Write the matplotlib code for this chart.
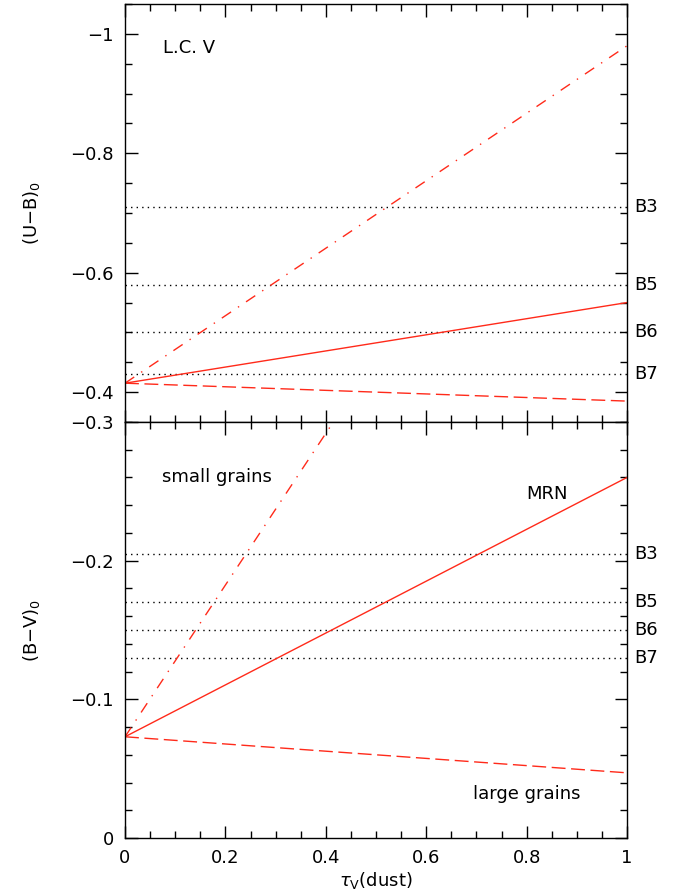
import matplotlib
matplotlib.use("Agg")
import matplotlib.pyplot as plt
from matplotlib.ticker import MultipleLocator, FuncFormatter

plt.rcParams['font.family'] = ['DejaVu Sans']
plt.rcParams['mathtext.fontset'] = 'dejavusans'

# ---- data ----
tau = [0.0, 1.0]
# top panel (U-B)0
ub_mrn = [-0.415, -0.55]
ub_small = [-0.415, -0.98]
ub_large = [-0.415, -0.385]
ub_types = ['B3', 'B5', 'B6', 'B7']
ub_type_vals = [-0.71, -0.58, -0.50, -0.43]
# bottom panel (B-V)0
bv_mrn = [-0.073, -0.26]
bv_small = [-0.073, -0.62]
bv_large = [-0.073, -0.047]
bv_types = ['B3', 'B5', 'B6', 'B7']
bv_type_vals = [-0.205, -0.170, -0.150, -0.130]

RED = '#ff2a1a'
W, H = 687, 894
fig = plt.figure(figsize=(W / 100, H / 100), dpi=100)
L = 125 / W
Wd = (627 - 125) / W
ax1 = fig.add_axes([L, 1 - 422 / H, Wd, (422 - 4) / H])
ax2 = fig.add_axes([L, 1 - 838 / H, Wd, (838 - 422) / H])


def fmt(v, pos):
    s = '%g' % round(v, 6)
    return s.replace('-', '\u2212')


FS = 13
for ax in (ax1, ax2):
    ax.set_xlim(0, 1)
    ax.xaxis.set_major_locator(MultipleLocator(0.2))
    ax.xaxis.set_minor_locator(MultipleLocator(0.05))
    ax.tick_params(which='both', direction='in', top=True, right=True,
                   labelsize=FS, colors='black', width=1.0, pad=8)
    ax.tick_params(which='major', length=9)
    ax.tick_params(which='minor', length=5)
    ax.xaxis.set_major_formatter(FuncFormatter(fmt))
    ax.yaxis.set_major_formatter(FuncFormatter(fmt))
    for sp in ax.spines.values():
        sp.set_linewidth(1.0)

# top panel
ax1.set_ylim(-0.35, -1.05)
ax1.yaxis.set_major_locator(MultipleLocator(0.2))
ax1.yaxis.set_minor_locator(MultipleLocator(0.05))
ax1.tick_params(labelbottom=False)
for name, v in zip(ub_types, ub_type_vals):
    ax1.plot(tau, [v, v], color='black', lw=1.0, ls=(0, (1, 3)))
    ax1.text(1.015, v, name, transform=ax1.get_yaxis_transform(),
             va='center', ha='left', fontsize=FS)
ax1.plot(tau, ub_mrn, color=RED, lw=1.0, ls='-')
ax1.plot(tau, ub_small, color=RED, lw=1.0, ls=(0, (8, 6, 1, 6)))
ax1.plot(tau, ub_large, color=RED, lw=1.0, ls=(0, (10, 4)))
ax1.text(0.076, -0.977, 'L.C. V', fontsize=FS, ha='left', va='center')
ax1.set_ylabel(r'(U$-$B)$_0$', fontsize=FS)
ax1.yaxis.set_label_coords(-0.165, 0.5)

# bottom panel
ax2.set_ylim(0, -0.3)
ax2.yaxis.set_major_locator(MultipleLocator(0.1))
ax2.yaxis.set_minor_locator(MultipleLocator(0.02))
for name, v in zip(bv_types, bv_type_vals):
    ax2.plot(tau, [v, v], color='black', lw=1.0, ls=(0, (1, 3)))
    ax2.text(1.015, v, name, transform=ax2.get_yaxis_transform(),
             va='center', ha='left', fontsize=FS)
ax2.plot(tau, bv_mrn, color=RED, lw=1.0, ls='-')
ax2.plot(tau, bv_small, color=RED, lw=1.0, ls=(0, (8, 6, 1, 6)))
ax2.plot(tau, bv_large, color=RED, lw=1.0, ls=(0, (10, 4)))
ax2.text(0.074, -0.26, 'small grains', fontsize=FS, ha='left', va='center')
ax2.text(0.84, -0.248, 'MRN', fontsize=FS, ha='center', va='center')
ax2.text(0.80, -0.032, 'large grains', fontsize=FS, ha='center', va='center')
ax2.set_ylabel(r'(B$-$V)$_0$', fontsize=FS)
ax2.yaxis.set_label_coords(-0.165, 0.5)
ax2.set_xlabel(r'$\tau_{\rm V}$(dust)', fontsize=FS, labelpad=2)

fig.savefig('out.png', dpi=100)
